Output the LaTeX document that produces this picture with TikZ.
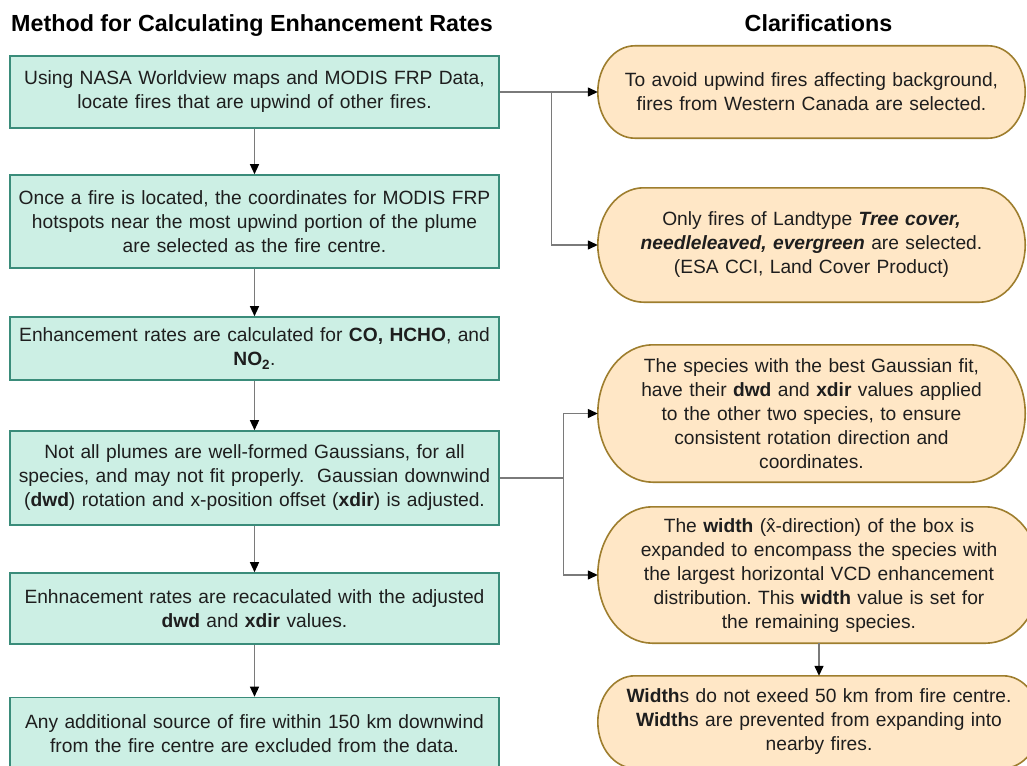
\documentclass[tikz,border=0pt]{standalone}
\usepackage{fontspec}
\setmainfont{Liberation Sans}
\usetikzlibrary{arrows.meta,backgrounds,calc}
\frenchspacing

\definecolor{boxfill}{HTML}{CCEFE4}
\definecolor{boxline}{HTML}{3A8C7A}
\definecolor{pillfill}{HTML}{FFE7C6}
\definecolor{pillline}{HTML}{9E7E2E}
\definecolor{connline}{HTML}{7A7A7A}
\definecolor{txt}{HTML}{1E1E1E}

\tikzset{
	heading/.style={font=\bfseries\fontsize{23.3}{28}\selectfont, inner sep=0pt},
	methodbox/.style={draw=boxline, fill=boxfill, line width=1.6pt, inner sep=0pt,
		minimum width=489pt, text width=485pt, align=center, text=txt,
		font=\fontsize{19.2}{24}\selectfont},
	clarbox/.style={inner sep=0pt, text width=425pt, align=center, text=txt,
		font=\fontsize{19.2}{24}\selectfont},
	pillshape/.style={draw=pillline, fill=pillfill, line width=1.6pt},
	conn/.style={draw=connline, line width=1.3pt, -{Triangle[length=10pt,width=9pt,color=black]}},
	plainconn/.style={draw=connline, line width=1.3pt}
}

\begin{document}
\begin{tikzpicture}[x=1pt,y=-1pt]
	\clip (0,0) rectangle (1027,765);
	% headings
	\node[heading, anchor=base west] (methodtitle) at (11,32) {Method for Calculating Enhancement Rates};
	\node[heading, anchor=base] (clartitle) at (818.5,32) {Clarifications};

	% method steps
	\node[methodbox, minimum height=72pt] (m1) at (254.5,92) {Using NASA Worldview maps and MODIS FRP Data,\\ locate fires that are upwind of other fires.};
	\node[methodbox, minimum height=93pt] (m2) at (254.5,221.5) {Once a fire is located, the coordinates for MODIS FRP\\ hotspots near the most upwind portion of the plume\\ are selected as the fire centre.};
	\node[methodbox, minimum height=63pt] (m3) at (254.5,348.5) {Enhancement rates are calculated for \textbf{CO, HCHO}, and\\ \textbf{NO\textsubscript{2}}.};
	\node[methodbox, minimum height=94pt] (m4) at (254.5,478) {Not all plumes are well-formed Gaussians, for all\\ species, and may not fit properly.\ \ Gaussian downwind\\ (\textbf{dwd}) rotation and x-position offset (\textbf{xdir}) is adjusted.};
	\node[methodbox, minimum height=71pt] (m5) at (254.5,608.5) {Enhnacement rates are recaculated with the adjusted\\ \textbf{dwd} and \textbf{xdir} values.};
	\node[methodbox, minimum height=72pt] (m6) at (254.5,733.5) {Any additional source of fire within 150 km downwind\\ from the fire centre are excluded from the data.};

	% clarifications
	\node[clarbox, minimum width=427pt, minimum height=92pt] (c1) at (811.5,92) {To avoid upwind fires affecting background,\\ fires from Western Canada are selected.};
	\node[clarbox, minimum width=427pt, minimum height=114pt] (c2) at (811.5,245) {Only fires of Landtype \textbf{\textit{Tree cover,}}\\ \textbf{\textit{needleleaved, evergreen}} are selected.\\ (ESA CCI, Land Cover Product)};
	\node[clarbox, minimum width=427pt, minimum height=137pt] (c3) at (811.5,413.5) {The species with the best Gaussian fit,\\ have their \textbf{dwd} and \textbf{xdir} values applied\\ to the other two species, to ensure\\ consistent rotation direction and\\ coordinates.};
	\node[clarbox, minimum width=442pt, minimum height=136pt] (c4) at (819,575) {The \textbf{width} (\^{x}-direction) of the box is\\ expanded to encompass the species with\\ the largest horizontal VCD enhancement\\ distribution. This \textbf{width} value is set for\\ the remaining species.};
	\node[clarbox, minimum width=442pt, minimum height=92pt] (c5) at (819,722) {\textbf{Width}s do not exeed 50 km from fire centre.\\ \textbf{Width}s are prevented from expanding into\\ nearby fires.};

	% pill outlines behind the clarifications
	\begin{scope}[on background layer]
		\foreach \cl in {c1,c2,c3,c4,c5}
			\path[pillshape] let \p1=(\cl.north west), \p2=(\cl.south east),
				\n1={(\y1-\y2)/2}, \n2={0.8*\n1} in
				(\x1+\n2,\y1) -- (\x2-\n2,\y1)
				arc[start angle=90, end angle=-90, x radius=\n2, y radius=\n1]
				-- (\x1+\n2,\y2)
				arc[start angle=270, end angle=90, x radius=\n2, y radius=\n1] -- cycle;
	\end{scope}

	% connectors
	\foreach \a/\b in {m1/m2,m2/m3,m3/m4,m4/m5,m5/m6}
		\draw[conn] (\a.south) -- (\b.north);
	\draw[conn] (m1.east) -- (c1.west);
	\coordinate (j1) at ($(m1.east)+(52,0)$);
	\draw[conn] (j1) |- (c2.west);
	\coordinate (j2) at ($(m4.east)+(64,0)$);
	\draw[plainconn] (m4.east) -- (j2);
	\draw[conn] (j2) |- (c3.west);
	\draw[conn] (j2) |- (c4.west);
	\draw[conn] (c4.south) -- (c5.north);
\end{tikzpicture}
\end{document}
